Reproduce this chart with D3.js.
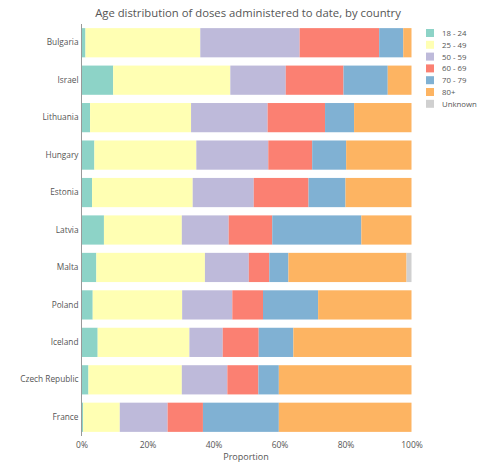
<!DOCTYPE html>
<html><head><meta charset="utf-8">
<script src="https://cdn.jsdelivr.net/npm/d3@7"></script>
<style>body{margin:0;background:#fff;font-family:"Open Sans","DejaVu Sans",sans-serif;}</style>
</head><body><svg id="c" width="477" height="463"></svg>
<script>
const countries = ["Bulgaria","Israel","Lithuania","Hungary","Estonia","Latvia","Malta","Poland","Iceland","Czech Republic","France"];
const ageGroups = ["18 - 24","25 - 49","50 - 59","60 - 69","70 - 79","80+","Unknown"];
const colors = ["#8dd3c7","#ffffb3","#bebada","#fb8072","#80b1d3","#fdb462","#d0d0d0"];
// proportions (%) per country, in ageGroups order
const bulgaria = [1.2,34.8,30.1,24.1,7.3,2.5,0];
const israel = [9.6,35.5,16.8,17.5,13.4,7.2,0];
const lithuania = [2.6,30.6,23.2,17.4,8.8,17.4,0];
const hungary = [3.9,30.9,21.8,13.3,10.3,19.8,0];
const estonia = [3.2,30.5,18.5,16.6,11.2,20.0,0];
const latvia = [6.8,23.6,14.2,13.2,27.0,15.2,0];
const malta = [4.5,32.9,13.3,6.2,5.8,35.8,1.5];
const poland = [3.4,27.1,15.2,9.3,16.7,28.3,0];
const iceland = [4.9,27.8,10.1,10.9,10.5,35.8,0];
const czech = [2.1,28.3,13.8,9.4,6.2,40.2,0];
const france = [0.5,11.1,14.5,10.7,23.0,40.2,0];
const values = [bulgaria,israel,lithuania,hungary,estonia,latvia,malta,poland,iceland,czech,france];
const xTicks = [0,20,40,60,80,100];

const svg = d3.select("#c");
const x = d3.scaleLinear().domain([0,100]).range([81.5,411.5]);
const y = d3.scaleBand().domain(countries).range([24,436]).paddingInner(0.22).paddingOuter(0.11);
const col = d3.scaleOrdinal().domain(ageGroups).range(colors);

svg.append("text").attr("x",248).attr("y",17).attr("text-anchor","middle")
  .attr("font-size",11.3).attr("fill","#555").text("Age distribution of doses administered to date, by country");

countries.forEach((c,i)=>{
  let acc=0;
  values[i].forEach((v,j)=>{
    if(v<=0) return;
    svg.append("rect").attr("x",x(acc)).attr("y",y(c)).attr("width",x(acc+v)-x(acc)).attr("height",y.bandwidth())
      .attr("fill",col(ageGroups[j]));
    acc+=v;
  });
});

const yAxis = svg.append("g").attr("transform","translate(81.5,0)").call(d3.axisLeft(y).tickSize(0).tickPadding(3));
yAxis.select(".domain").attr("stroke","#999").attr("d","M0,24V436");
yAxis.selectAll("text").attr("font-size",8.3).attr("fill","#555").attr("font-family","Open Sans, DejaVu Sans, sans-serif");

const xAxis = svg.append("g").attr("transform","translate(0,436)").call(d3.axisBottom(x).tickValues(xTicks).tickSize(0).tickPadding(6).tickFormat(d=>d+"%"));
xAxis.select(".domain").remove();
xAxis.selectAll("text").attr("font-size",8.5).attr("fill","#555").attr("font-family","Open Sans, DejaVu Sans, sans-serif");

svg.append("text").attr("x",246).attr("y",460).attr("text-anchor","middle").attr("font-size",9).attr("fill","#555").text("Proportion");

const lg = svg.append("g");
ageGroups.forEach((g,i)=>{
  const yy = 33 + i*11.8;
  lg.append("rect").attr("x",426).attr("y",yy-4).attr("width",8).attr("height",8).attr("fill",col(g));
  lg.append("text").attr("x",442).attr("y",yy+3).attr("font-size",7.8).attr("fill","#555").text(g);
});
</script></body></html>
